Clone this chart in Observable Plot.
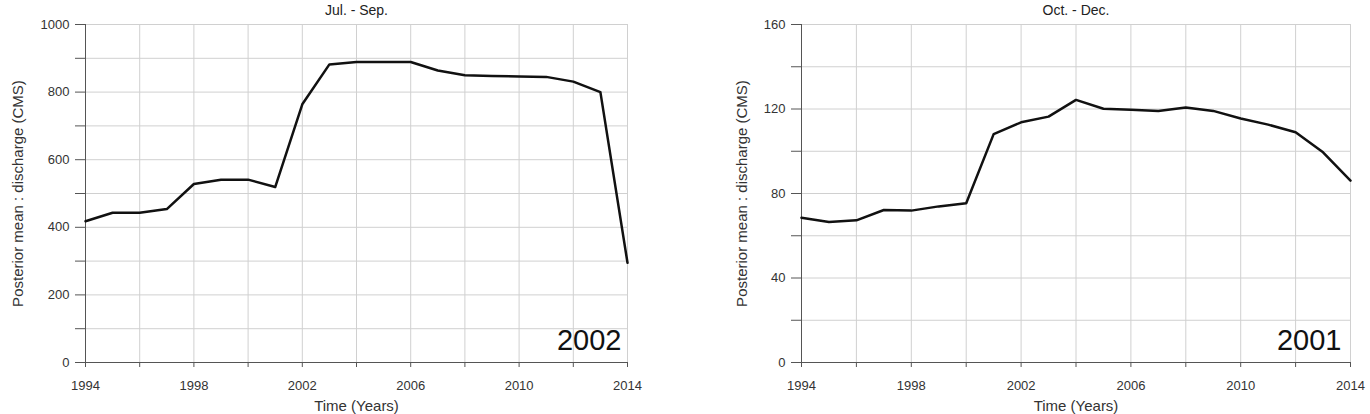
<!DOCTYPE html>
<html>
<head>
<meta charset="utf-8">
<script src="https://cdn.jsdelivr.net/npm/d3@7"></script>
<script src="https://cdn.jsdelivr.net/npm/@observablehq/plot@0.6"></script>
<style>
  html, body { margin: 0; padding: 0; background: #fff; }
  #wrap { display: flex; width: 1370px; height: 414px; overflow: hidden; }
</style>
</head>
<body>
<div id="wrap"></div>
<script>
const years = d3.range(1994, 2015);
const julSep = [418, 443, 443, 454, 528, 541, 541, 519, 764, 882, 889, 889, 889, 864, 850, 848, 846, 845, 831, 800, 295];
const octDec = [68.5, 66.5, 67.3, 72.2, 71.9, 73.9, 75.4, 108.1, 113.7, 116.4, 124.3, 120.1, 119.6, 119.1, 120.7, 119.1, 115.5, 112.6, 109.0, 99.5, 86.1];
const xTicks = d3.range(1994, 2015, 2);
const leftYTicks = d3.range(0, 1001, 100);
const rightYTicks = d3.range(0, 161, 20);
const titles = ["Jul. - Sep.", "Oct. - Dec."];
const badges = ["2002", "2001"];
const xLabel = "Time (Years)";
const yLabel = "Posterior mean : discharge (CMS)";

function panel({values, yDomain, yTicks, title, badge, marginLeft, marginRight, yLabelDx, badgeDx}) {
  const data = years.map((y, i) => ({year: y, v: values[i]}));
  const labelEvery = yTicks[2];
  return Plot.plot({
    width: 685,
    height: 414,
    marginLeft, marginRight,
    marginTop: 24, marginBottom: 52,
    style: {fontFamily: "'Liberation Sans', Arial, sans-serif", fontSize: "13px", color: "#333"},
    x: {domain: [1994, 2014]},
    y: {domain: yDomain},
    marks: [
      Plot.gridX(xTicks, {stroke: "#d0d0d0", strokeOpacity: 1}),
      Plot.gridY(yTicks, {stroke: "#d0d0d0", strokeOpacity: 1}),
      Plot.axisX(xTicks, {tickSize: 5, tickPadding: 13, stroke: "#555", fontSize: 13, fill: "#333",
        tickFormat: d => (d % 4 === 2 ? String(d) : ""), label: null}),
      Plot.axisY(yTicks, {tickSize: 10, tickPadding: 6, stroke: "#555", fontSize: 13, fill: "#333",
        tickFormat: d => (d % labelEvery === 0 ? String(d) : ""), label: null}),
      Plot.ruleX([1994], {stroke: "#555"}),
      Plot.ruleY([0], {stroke: "#555"}),
      Plot.line(data, {x: "year", y: "v", stroke: "#111", strokeWidth: 2.5}),
      Plot.text([title], {frameAnchor: "top", lineAnchor: "bottom", dy: -10, fontSize: 14, fill: "#222"}),
      Plot.text([xLabel], {frameAnchor: "bottom", lineAnchor: "middle", dy: 44, fontSize: 15, fill: "#333"}),
      Plot.text([yLabel], {frameAnchor: "left", textAnchor: "middle", lineAnchor: "middle", rotate: -90, dx: yLabelDx, fontSize: 15, fill: "#333"}),
      Plot.text([badge], {frameAnchor: "bottom-right", textAnchor: "end", lineAnchor: "bottom", dx: badgeDx, dy: -13, fontSize: 29, fill: "#111"})
    ]
  });
}

const wrap = document.getElementById("wrap");
wrap.appendChild(panel({values: julSep, yDomain: [0, 1000], yTicks: leftYTicks, title: titles[0], badge: badges[0], marginLeft: 85, marginRight: 58, yLabelDx: -67, badgeDx: -6}));
wrap.appendChild(panel({values: octDec, yDomain: [0, 160], yTicks: rightYTicks, title: titles[1], badge: badges[1], marginLeft: 116, marginRight: 20, yLabelDx: -59, badgeDx: -9}));
</script>
</body>
</html>
